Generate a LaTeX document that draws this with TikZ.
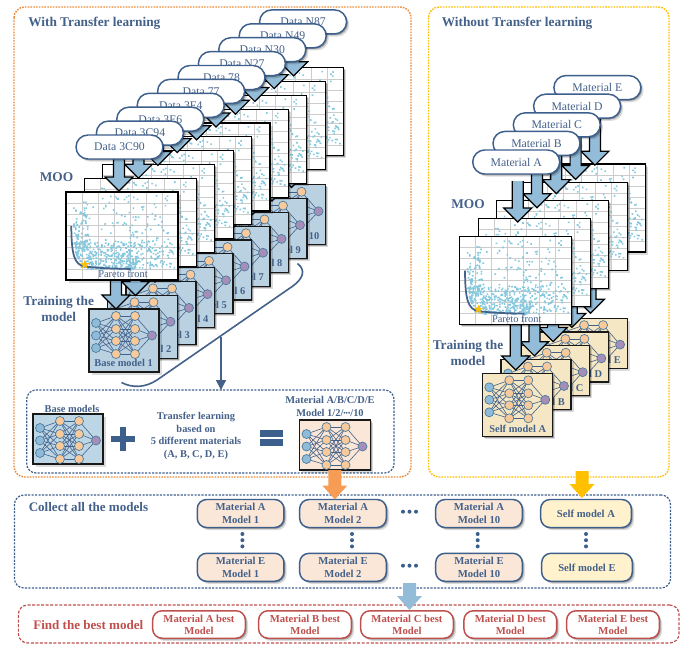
\documentclass[tikz,border=0pt]{standalone}
\usepackage{fontspec}
\setmainfont{Liberation Serif}
\usetikzlibrary{shapes.geometric,shadows,calc,arrows.meta}
\pgfdeclarelayer{paper}\pgfdeclarelayer{back}\pgfdeclarelayer{front}
\pgfsetlayers{paper,back,main,front}
\definecolor{ink}{HTML}{44618A}
\definecolor{inkd}{HTML}{3D5F8C}
\definecolor{redb}{HTML}{C0504D}
\definecolor{arrowb}{HTML}{93BCD9}
\definecolor{pt}{HTML}{86C8DE}
\definecolor{frameo}{HTML}{ED8B3A}
\definecolor{framey}{HTML}{FFC000}
\definecolor{arrowo}{HTML}{F79C55}
\definecolor{modelblue}{HTML}{B9D1E1}
\definecolor{baseblue}{HTML}{BCD6E6}
\definecolor{modelsand}{HTML}{F5E7C3}
\definecolor{peach}{HTML}{FBE7D8}
\definecolor{cream}{HTML}{FFF2CC}
\definecolor{nin}{HTML}{8FBAD8}
\definecolor{nhid}{HTML}{F8C99A}
\definecolor{nout}{HTML}{A58FB8}
\definecolor{nline}{HTML}{4A7A9C}
% --- one scatter cloud, re-used by every plot
\pgfmathsetseed{4711}
\gdef\cloud{}
\newcommand\addpt[2]{\xdef\cloud{\cloud (#1,#2) rectangle ++(1.6,1.6)}}
\newcommand\rr{\pgfmathsetmacro\ru{0.001+0.998*rnd}\pgfmathsetmacro\rv{0.001+0.998*rnd}}
\foreach \n in {1,...,300}{\rr
  \pgfmathsetmacro\px{9+62*\ru^1.4}
  \pgfmathsetmacro\py{78-44*exp(-(\px-5)/4.5)-1-28*\rv^1.6}
  \addpt{\px}{\py}}
\foreach \n in {1,...,90}{\rr
  \pgfmathsetmacro\px{14+92*\ru}
  \pgfmathsetmacro\py{50+27*\rv}
  \addpt{\px}{\py}}
\foreach \n in {1,...,70}{\rr
  \pgfmathsetmacro\px{62+46*\ru}
  \pgfmathsetmacro\py{36+40*\rv}
  \addpt{\px}{\py}}
\foreach \n in {1,...,120}{\rr
  \pgfmathsetmacro\px{6+100*\ru}
  \pgfmathsetmacro\py{min(3+70*\rv^1.2,78-44*exp(-(\px-5)/4.5)-1)}
  \addpt{\px}{\py}}
\foreach \n in {1,...,60}{\rr
  \pgfmathsetmacro\px{7+15*\ru}
  \pgfmathsetmacro\py{min(15+45*\rv,78-44*exp(-(\px-5)/4.5)-1)}
  \addpt{\px}{\py}}
\tikzset{
  softshadow/.style={drop shadow={shadow xshift=2pt,shadow yshift=-2pt,fill=black,opacity=.14},
                     drop shadow={shadow xshift=1pt,shadow yshift=-1pt,fill=black,opacity=.28}},
  bubble/.style={draw=inkd,line width=1.1pt,fill=white,rounded corners=9pt,minimum width=65.25pt,minimum height=18pt,
     inner sep=0pt,outer sep=0pt,text=ink,font=\fontsize{8.8}{10}\selectfont,softshadow},
  plotbox/.style={draw=black,line width=.9pt,fill=white,minimum width=84pt,minimum height=66pt,inner sep=0pt,outer sep=0pt,anchor=north west,softshadow},
  modelbox/.style={draw=black!90,line width=.9pt,minimum width=52.5pt,inner sep=0pt,outer sep=0pt,anchor=north west,softshadow},
  gridl/.style={draw=black!20,line width=.4pt},
  barrowst/.style={draw=black,line width=.9pt,fill=arrowb,line join=miter},
  head/.style={font=\bfseries\fontsize{10}{11.8}\selectfont,text=ink,align=center,inner sep=0pt},
  sub/.style={font=\bfseries\fontsize{7.8}{9.5}\selectfont,text=ink,align=center,inner sep=0pt},
  smallb/.style={font=\bfseries\fontsize{8}{9.3}\selectfont,align=center,inner sep=0pt,outer sep=0pt,rounded corners=7pt,softshadow},
  collectb/.style={smallb,draw=inkd,line width=1.1pt,text=ink,minimum height=21pt},
  bestb/.style={smallb,draw=redb,line width=1.1pt,fill=white,text=redb,minimum width=69.5pt,minimum height=20.6pt,font=\bfseries\fontsize{8}{8.8}\selectfont},
  nnedge/.style={draw=ink,line width=.45pt},
  nnnode/.style={circle,draw=nline,line width=.5pt,minimum size=6.75pt,inner sep=0pt},
  nnet/.pic={
    \foreach \j/\v in {1/14,2/26.5,3/39}{\coordinate (-i\j) at (7,\v);}
    \foreach \j/\v in {1/7,2/20,3/32,4/45}{\coordinate (-a\j) at (27,\v);\coordinate (-b\j) at (46,\v);}
    \coordinate (-o) at (63,26.5);
    \foreach \a in {1,2,3}{\foreach \b in {1,2,3,4}{\draw[nnedge] (-i\a) -- (-a\b);}}
    \foreach \a in {1,2,3,4}{\foreach \b in {1,2,3,4}{\draw[nnedge] (-a\a) -- (-b\b);}}
    \foreach \a in {1,2,3,4}{\draw[nnedge] (-b\a) -- (-o);}
    \foreach \j in {1,2,3}{\node[nnnode,fill=nin] (-ni\j) at (-i\j) {};}
    \foreach \j in {1,2,3,4}{\node[nnnode,fill=nhid] (-na\j) at (-a\j) {};\node[nnnode,fill=nhid] (-nb\j) at (-b\j) {};}
    \node[nnnode,fill=nout] (-no) at (-o) {};
  }
}
\newcommand\barrow[2]{%
  \coordinate (bs) at (#1);\coordinate (bt) at (#2);
  \draw[barrowst] ($(bs)+(-5.5,0)$) -- ($(bs|-bt)+(-5.5,-14)$) -- ($(bt)+(-14,-14)$) -- (bt) -- ($(bt)+(14,-14)$) -- ($(bs|-bt)+(5.5,-14)$) -- ($(bs)+(5.5,0)$);}
\newcommand\flatarrow[3]{%
  \coordinate (bs) at (#1);\coordinate (bt) at (#2);
  \fill[#3] ($(bs)+(-6.5,0)$) -- ($(bs|-bt)+(-6.5,-14)$) -- ($(bt)+(-12.5,-14)$) -- (bt) -- ($(bt)+(12.5,-14)$) -- ($(bs|-bt)+(6.5,-14)$) -- ($(bs)+(6.5,0)$) -- cycle;}
\newcommand\plotat[3]{%
  \node[plotbox] (#1) at (#2,#3) {};
  \begin{scope}[shift={(#2,#3)}]
    \foreach \gx in {16,32,...,96}{\draw[gridl] (\gx,.6) -- (\gx,87.4);}
    \foreach \gy in {11,22,...,77}{\draw[gridl] (.6,\gy) -- (111.4,\gy);}
    \fill[pt] \cloud;
  \end{scope}}
\newcommand\frontmarks[3]{%
  \begin{scope}[shift={(#2,#3)}]
    \coordinate (#1c1) at (5.3,34);\coordinate (#1c2) at (64.7,77);
    \draw[ink,line width=1.3pt] (#1c1) .. controls (5.5,62) and (8,73) .. (19,74.5) .. controls (35,76.5) and (50,76.5) .. (#1c2);
    \node[star,star points=5,star point ratio=2.4,fill=framey,minimum size=7pt,inner sep=0pt] (#1star) at (18.7,72.7) {};
    \node[font=\fontsize{7.8}{9}\selectfont,text=ink,inner sep=0pt] (#1lab) at (57,82) {Pareto front};
  \end{scope}}
\begin{document}
\begin{tikzpicture}[x=.75pt,y=-.75pt]
\useasboundingbox (0,0) rectangle (683,646);
\begin{pgfonlayer}{paper}
\fill[white] (0,0) rectangle (683,646);
% outer frames
\draw[draw=frameo,line width=1.1pt,dash pattern=on 1.2pt off .9pt,rounded corners=8pt] (14,7) rectangle (411,477);
\draw[draw=framey,line width=1.1pt,dash pattern=on 1.2pt off .9pt,rounded corners=8pt] (428.5,7) rectangle (669,477);
\end{pgfonlayer}
\node[head,anchor=west] (tl) at (28,23.5) {With Transfer learning};
\node[head,anchor=west] (tr) at (441.5,23.5) {Without Transfer learning};
% ------- left stack
\begin{pgfonlayer}{front}
\foreach \k/\nm in {10/N87,9/N49,8/N30,7/N27,6/78,5/77,4/3F4,3/3E6,2/3C94,1/3C90}{
  \pgfmathsetmacro\bx{119.5+20.4*(\k-1)}\pgfmathsetmacro\by{147-13.9*(\k-1)}
  \node[bubble] (bub\k) at (\bx,\by) {Data \nm};
}
\end{pgfonlayer}
\foreach \k in {10,9,...,1}{
  \pgfmathsetmacro\bx{66+18.4*(\k-1)}\pgfmathsetmacro\by{192-13.8*(\k-1)}
  \plotat{plot\k}{\bx}{\by}
  \pgfmathsetmacro\tx{119+19.4*(\k-1)}\pgfmathsetmacro\ty{191-12.8*(\k-1)}
  \coordinate (dt\k) at (\tx,\ty);
  \barrow{dt\k|-bub\k.south}{dt\k}
}
\frontmarks{pf}{66}{192}
\begin{pgfonlayer}{back}
\foreach \k in {10,9,...,1}{
  \pgfmathsetmacro\bx{89+18.5*(\k-1)}\pgfmathsetmacro\by{309-13.8*(\k-1)}
  \pgfmathsetmacro\bh{\k<4?47.25:45}
  \node[modelbox,fill=modelblue,minimum height=\bh pt] (m\k) at (\bx,\by) {};
  \pic (n\k) at (\bx,\by) {nnet};
  \node[sub,anchor=east] (ml\k) at ($(m\k.south east)+(-6,-9)$) {Base model \k};
  \pgfmathsetmacro\tx{116+19.5*(\k-1)}\pgfmathsetmacro\ty{309-13.5*(\k-1)}
  \coordinate (mt\k) at (\tx,\ty);
  \barrow{mt\k|-plot\k.south}{mt\k}
}
\end{pgfonlayer}
\node[head] (moo) at (56.5,177) {MOO};
\node[head] (tm) at (58.7,309) {Training the\\model};
% brace and arrow
\coordinate (br1) at (297.5,263.5);\coordinate (br2) at (121.5,382.5);\coordinate (ar1) at (221,337);
\draw[ink,line width=1.2pt] (br1) .. controls (306,270) and (304,279) .. (290,288) -- (157,380) .. controls (145,388) and (132,388) .. (br2);
% ------- inner panel
\node[draw=inkd,line width=.9pt,dash pattern=on 1.6pt off 1pt,rounded corners=7pt,minimum width=275.5pt,minimum height=62.25pt,inner sep=0pt,outer sep=0pt] (panel) at (210.35,431.5) {};
\coordinate (ar2) at (ar1|-panel.north);
\draw[ink,line width=1.1pt,-{Triangle[length=7.5pt,width=7.5pt]}] (ar1) -- (ar2);
\node[sub] (bml) at (72,408.5) {Base models};
\node[modelbox,fill=baseblue,minimum height=37.5pt] (basebox) at (33,414) {};
\pic (nb) at (33,414) {nnet};
\fill[inkd] (111,435.7) rectangle (135,441.7);\fill[inkd] (120,426.7) rectangle (126,450.7);
\node[sub] (tlt) at (196,436) {Transfer learning\\based on\\5 different materials\\(A, B, C, D, E)};
\fill[inkd] (260,430) rectangle (283,436.5);\fill[inkd] (260,439) rectangle (283,445.5);
\node[font=\bfseries\fontsize{7.8}{9.75}\selectfont,text=ink,align=center,inner sep=0pt] (mh) at (330,406) {Material A/B/C/D/E\\Model 1/2/\raisebox{.4pt}{\fontsize{5}{5}\selectfont •••}/10};
\node[modelbox,fill=peach,minimum height=37.5pt,minimum width=53pt] (matbox) at (299.5,420) {};
\pic (nm) at (299.5,420) {nnet};
% ------- right stack
\node[head] (moor) at (468,204) {MOO};
\begin{pgfonlayer}{front}
\foreach \k/\nm in {5/E,4/D,3/C,2/B,1/A}{
  \pgfmathsetmacro\bx{516.2+20.3*(\k-1)}\pgfmathsetmacro\by{162-18.6*(\k-1)}
  \node[bubble] (rb\k) at (\bx,\by) {Material \nm};
}
\end{pgfonlayer}
\foreach \k in {5,4,...,1}{
  \pgfmathsetmacro\bx{459.7+18.5*(\k-1)}\pgfmathsetmacro\by{236.7-18.2*(\k-1)}
  \plotat{rp\k}{\bx}{\by}
  \pgfmathsetmacro\tx{517.7+19.3*(\k-1)}\pgfmathsetmacro\ty{222-14.2*(\k-1)}
  \coordinate (rt\k) at (\tx,\ty);
  \pgfmathsetmacro\gap{\k==1?7:0}
  \barrow{$(rt\k|-rb\k.south)+(0,\gap)$}{rt\k}
}
\frontmarks{pr}{459.7}{236.7}
\begin{pgfonlayer}{back}
\foreach \k/\nm in {5/E,4/D,3/C,2/B,1/A}{
  \pgfmathsetmacro\bx{482.3+18.7*(\k-1)}
  \pgfmathsetmacro\by{373.3-13.8*(\k-1)}
  \pgfmathsetmacro\bh{\k==1?47.5:37.5}
  \node[modelbox,fill=modelsand,minimum height=\bh pt] (rm\k) at (\bx,\by) {};
  \pic (rn\k) at (\bx,\by) {nnet};
  \node[sub,anchor=east] (rl\k) at ($(rm\k.south east)+(-6,-8)$) {Self model \nm};
  \pgfmathsetmacro\tx{515.7+18.7*(\k-1)}\pgfmathsetmacro\ty{370-14.2*(\k-1)}
  \coordinate (rs\k) at (\tx,\ty);
  \barrow{rs\k|-rp\k.south}{rs\k}
}
\end{pgfonlayer}
\node[head] (tmr) at (468,353) {Training the\\model};
% ------- collect panel
\node[draw=inkd,line width=.9pt,dash pattern=on 1.6pt off 1pt,rounded corners=7pt,minimum width=492pt,minimum height=69.75pt,inner sep=0pt,outer sep=0pt] (collect) at (342.5,541.5) {};
\node[font=\bfseries\fontsize{9.8}{11}\selectfont,text=ink,anchor=west,inner sep=0pt] (ctitle) at (28.5,507) {Collect all the models};
\tikzset{ca/.style={collectb,fill=peach,minimum width=65pt},cs/.style={collectb,fill=cream,minimum width=68pt}}
\node[ca] (a1) at (240.6,513.5) {Material A\\Model 1};
\node[ca] (a2) at (343,513.5) {Material A\\Model 2};
\node[ca] (a10) at (479,513.5) {Material A\\Model 10};
\node[cs] (sa) at (586,513.5) {Self model A};
\node[ca] (e1) at (240.6,567.3) {Material E\\Model 1};
\node[ca] (e2) at (343,567.3) {Material E\\Model 2};
\node[ca] (e10) at (479,567.3) {Material E\\Model 10};
\node[cs] (se) at (587,567.3) {Self model E};
\foreach \xd in {242.4,352,477.7,586}{\foreach \yd in {534,540.2,546.4}{\fill[inkd] (\xd,\yd) circle[radius=2];}}
\foreach \yd in {511.7,565.7}{\foreach \xd in {403,409.5,416}{\fill[inkd] (\xd,\yd) circle[radius=2];}}
% ------- best panel
\node[draw=redb,line width=.9pt,dash pattern=on 2.2pt off 1.2pt,rounded corners=7pt,minimum width=495.5pt,minimum height=28.5pt,inner sep=0pt,outer sep=0pt] (best) at (348.7,624) {};
\node[font=\bfseries\fontsize{9.8}{11}\selectfont,text=redb,anchor=west,inner sep=0pt] (btitle) at (33,625) {Find the best model};
\node[bestb] (ba) at (199,624.5) {Material A best\\Model};
\node[bestb] (bb) at (305,624.5) {Material B best\\Model};
\node[bestb] (bc) at (407,624.5) {Material C best\\Model};
\node[bestb] (bd) at (510.3,624.5) {Material D best\\Model};
\node[bestb] (be) at (613,624.5) {Material E best\\Model};
% ------- link arrows
\coordinate (oa) at (matbox.south);
\coordinate (ot) at (oa|-a2.north);
\flatarrow{oa}{ot}{arrowo}
\coordinate (ya) at (582,471);\coordinate (yt) at (582,498);
\flatarrow{ya}{yt}{framey}
\coordinate (ba1) at (409.5,583);\coordinate (bt1) at (409.5,610);
\flatarrow{ba1}{bt1}{arrowb}
\end{tikzpicture}
\end{document}
